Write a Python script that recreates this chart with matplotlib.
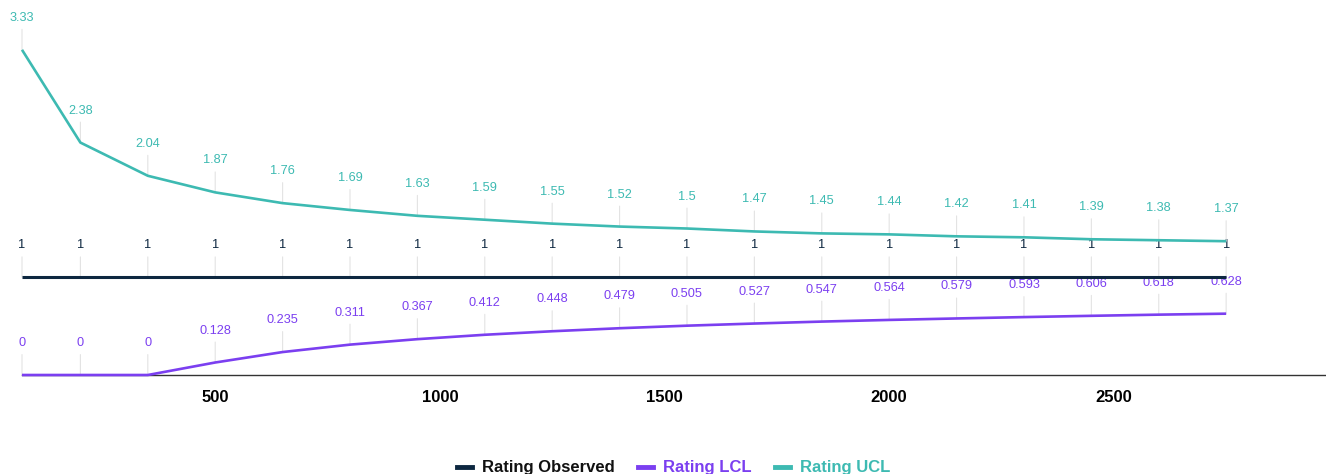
import matplotlib.pyplot as plt
from matplotlib.lines import Line2D

plt.rcParams['font.family'] = ['Liberation Sans', 'DejaVu Sans']

# data
sample_size = [70, 200, 350, 500, 650, 800, 950, 1100, 1250, 1400, 1550,
               1700, 1850, 2000, 2150, 2300, 2450, 2600, 2750]
rating_observed = [1] * 19
rating_lcl = [0, 0, 0, 0.128, 0.235, 0.311, 0.367, 0.412, 0.448, 0.479, 0.505,
              0.527, 0.547, 0.564, 0.579, 0.593, 0.606, 0.618, 0.628]
rating_ucl = [3.33, 2.38, 2.04, 1.87, 1.76, 1.69, 1.63, 1.59, 1.55, 1.52, 1.5,
              1.47, 1.45, 1.44, 1.42, 1.41, 1.39, 1.38, 1.37]
x_ticks = [500, 1000, 1500, 2000, 2500]

c_obs = '#0d2740'
c_lcl = '#7b3ff0'
c_ucl = '#3dbab2'

fig = plt.figure(figsize=(13.26, 4.74), dpi=100)
ax = fig.add_axes([22 / 1326, 99 / 474, 1303 / 1326, 375 / 474])

series = [
    ('Rating Observed', rating_observed, c_obs, 2.2),
    ('Rating LCL', rating_lcl, c_lcl, 1.9),
    ('Rating UCL', rating_ucl, c_ucl, 1.9),
]

for name, vals, col, lw in series:
    ax.plot(sample_size, vals, color=col, lw=lw, zorder=3, clip_on=False,
            solid_capstyle='butt')
    for x, v in zip(sample_size, vals):
        ax.annotate(f"{v:.3g}", xy=(x, v), xytext=(0, 32), textcoords='offset pixels',
                    ha='center', va='center', fontsize=9.2, color=col, zorder=2,
                    annotation_clip=False,
                    arrowprops=dict(arrowstyle='-', color='#e3e3e3', lw=0.8,
                                    shrinkA=2, shrinkB=0))

ax.set_xlim(70, 2970)
ax.set_ylim(0, 3.84)
ax.set_xticks(x_ticks)
ax.set_xticklabels([str(t) for t in x_ticks], fontsize=12, fontweight='bold')
ax.tick_params(axis='x', length=0, pad=11)
ax.set_yticks([])
for s in ['top', 'right', 'left']:
    ax.spines[s].set_visible(False)
ax.spines['bottom'].set_color('#333333')
ax.spines['bottom'].set_linewidth(1.0)

handles = [Line2D([0], [0], color=col, lw=3.5) for _, _, col, _ in series]
leg = fig.legend(handles, [s[0] for s in series], loc='center', bbox_to_anchor=(0.508, 0.013),
                 ncol=3, frameon=False, handlelength=0.9, handletextpad=0.6,
                 columnspacing=1.4, prop={'size': 12, 'weight': 'bold'})
for txt, (_, _, col, _) in zip(leg.get_texts(), series):
    txt.set_color(col)
leg.get_texts()[0].set_color('#111111')

fig.savefig('out.png', dpi=100)
